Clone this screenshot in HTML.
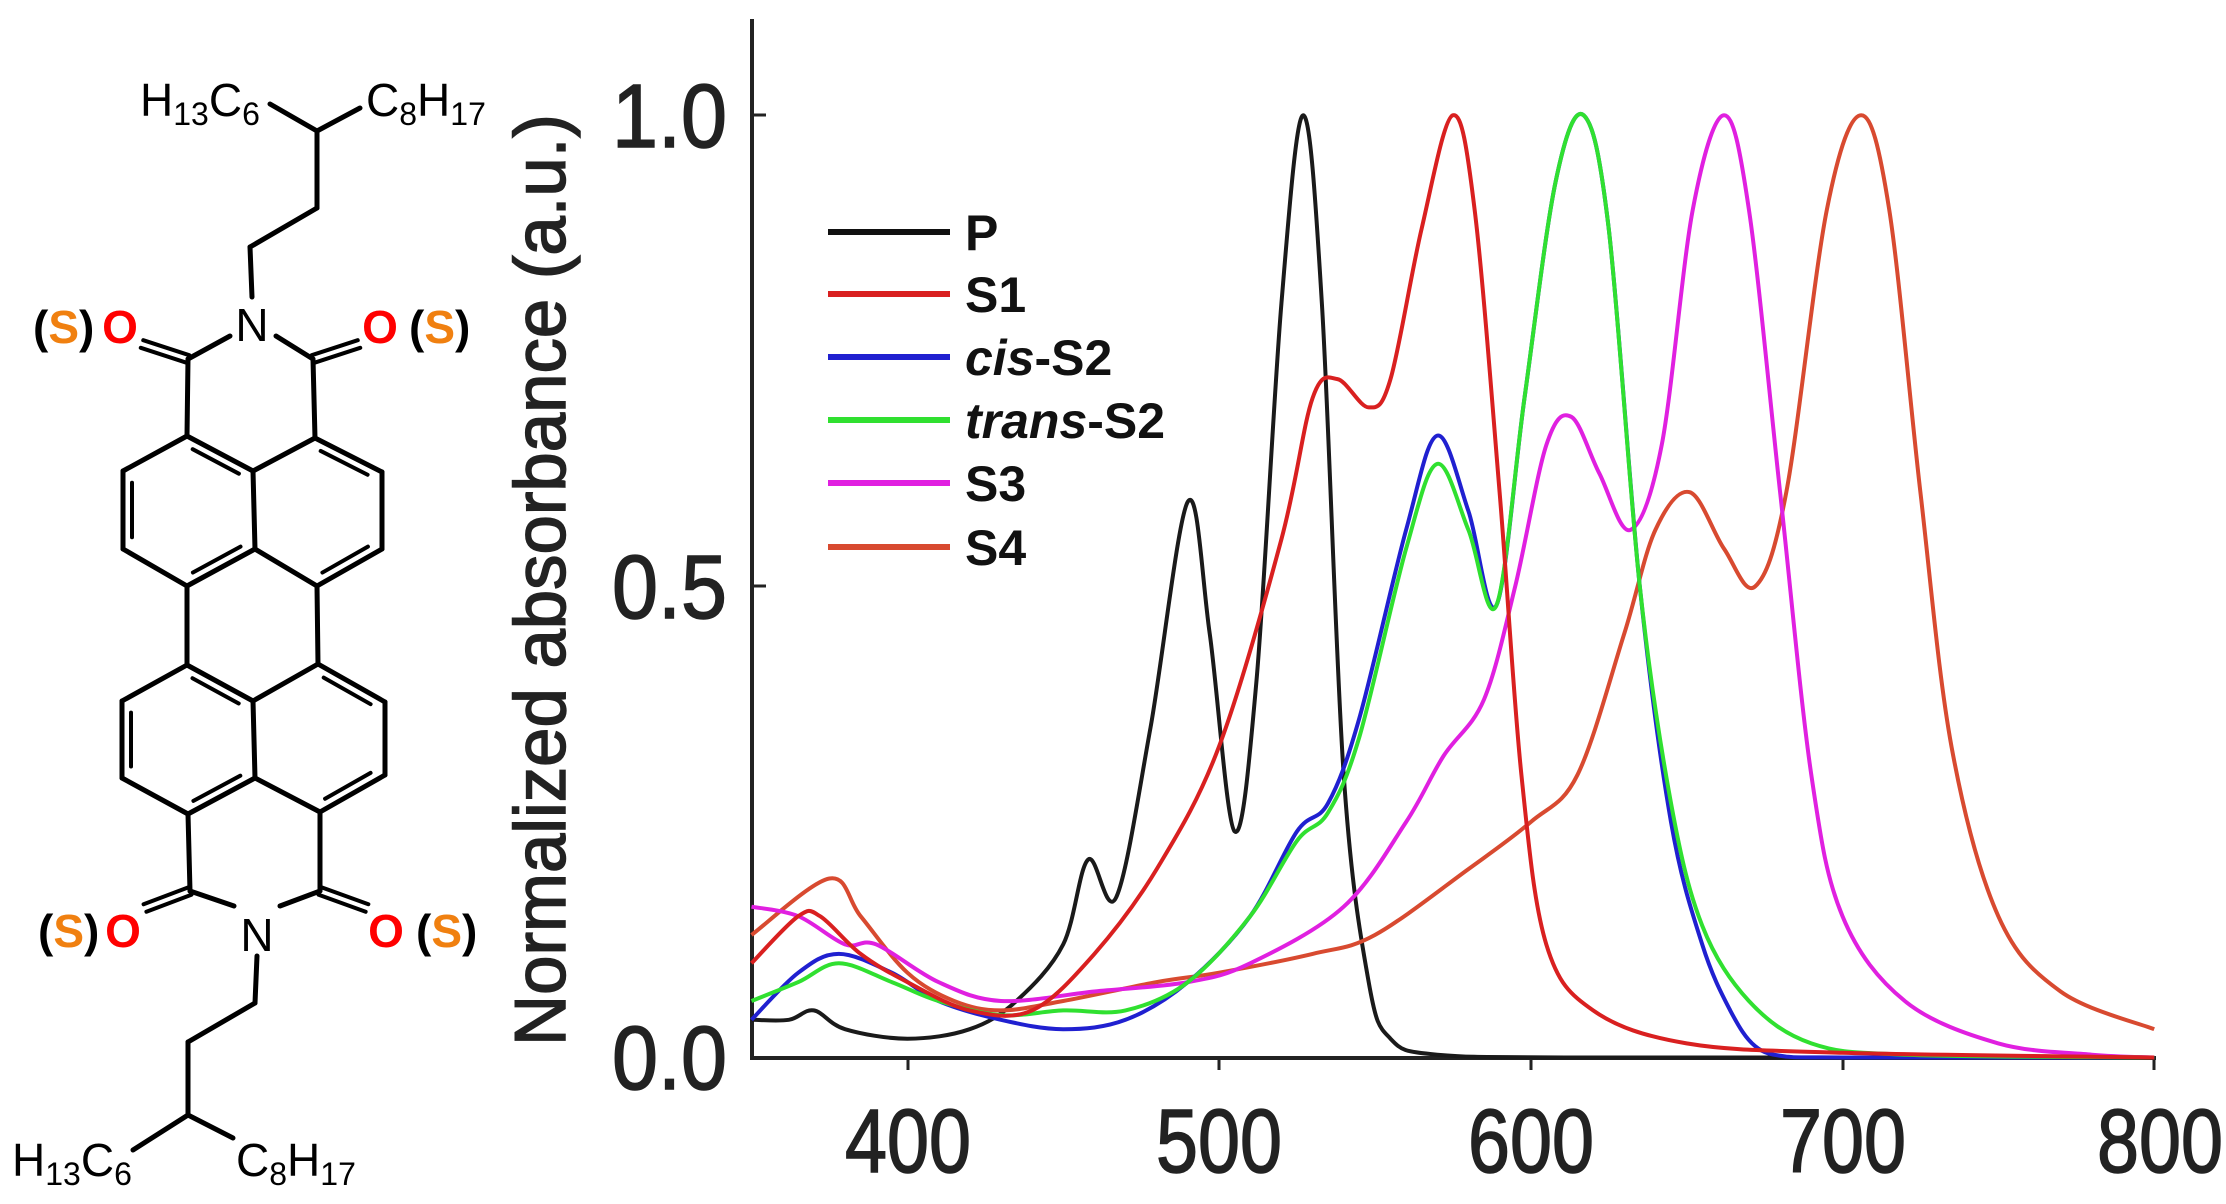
<!DOCTYPE html>
<html><head><meta charset="utf-8"><style>
html,body{margin:0;padding:0;background:#fff;}
svg{display:block;}
</style></head><body>
<svg id="s" width="2226" height="1204" viewBox="0 0 2226 1204" xmlns="http://www.w3.org/2000/svg" font-family="Liberation Sans, sans-serif">
<g id="mol" stroke="#000" stroke-width="5" fill="none" stroke-linecap="round"></g>
<g font-size="46" fill="#000">
<text x="140" y="116">H<tspan font-size="32" dy="9">13</tspan><tspan dy="-9">C</tspan><tspan font-size="32" dy="9">6</tspan></text>
<text x="366" y="116">C<tspan font-size="32" dy="9">8</tspan><tspan dy="-9">H</tspan><tspan font-size="32" dy="9">17</tspan></text>
<text x="12" y="1176">H<tspan font-size="32" dy="9">13</tspan><tspan dy="-9">C</tspan><tspan font-size="32" dy="9">6</tspan></text>
<text x="236" y="1176">C<tspan font-size="32" dy="9">8</tspan><tspan dy="-9">H</tspan><tspan font-size="32" dy="9">17</tspan></text>
<text x="252" y="341" text-anchor="middle">N</text>
<text x="257" y="951" text-anchor="middle">N</text>
</g>
<g font-size="46" font-weight="bold">
<text x="120" y="343" text-anchor="middle" fill="#f00">O</text>
<text x="380" y="343" text-anchor="middle" fill="#f00">O</text>
<text x="123" y="947" text-anchor="middle" fill="#f00">O</text>
<text x="386" y="947" text-anchor="middle" fill="#f00">O</text>
<text x="33" y="343">(<tspan fill="#f08010">S</tspan>)</text>
<text x="409" y="343">(<tspan fill="#f08010">S</tspan>)</text>
<text x="38" y="947">(<tspan fill="#f08010">S</tspan>)</text>
<text x="416" y="947">(<tspan fill="#f08010">S</tspan>)</text>
</g>
<!-- axes -->
<line x1="752" y1="19" x2="752" y2="1059" stroke="#222" stroke-width="4"/>
<line x1="750" y1="1058" x2="2156" y2="1058" stroke="#222" stroke-width="4"/>
<g stroke="#222" stroke-width="3">
<line x1="752" y1="115" x2="766" y2="115"/><line x1="752" y1="586" x2="766" y2="586"/>
<line x1="908" y1="1058" x2="908" y2="1070"/><line x1="1219" y1="1058" x2="1219" y2="1070"/>
<line x1="1531" y1="1058" x2="1531" y2="1070"/><line x1="1843" y1="1058" x2="1843" y2="1070"/><line x1="2154" y1="1058" x2="2154" y2="1070"/>
</g>
<g font-size="90" fill="#222" text-anchor="middle" stroke="#222" stroke-width="1.5">
<text x="908" y="1172" textLength="126" lengthAdjust="spacingAndGlyphs">400</text>
<text x="1219" y="1172" textLength="126" lengthAdjust="spacingAndGlyphs">500</text>
<text x="1531" y="1172" textLength="126" lengthAdjust="spacingAndGlyphs">600</text>
<text x="1843" y="1172" textLength="126" lengthAdjust="spacingAndGlyphs">700</text>
<text x="2160" y="1172" textLength="126" lengthAdjust="spacingAndGlyphs">800</text>
</g>
<g font-size="90" fill="#222" text-anchor="end" stroke="#222" stroke-width="1.5">
<text x="727" y="147" textLength="115" lengthAdjust="spacingAndGlyphs">1.0</text>
<text x="727" y="618" textLength="115" lengthAdjust="spacingAndGlyphs">0.5</text>
<text x="727" y="1089" textLength="115" lengthAdjust="spacingAndGlyphs">0.0</text>
</g>
<text transform="translate(565,1046) rotate(-90)" font-size="72" fill="#222" stroke="#222" stroke-width="1.5" textLength="932" lengthAdjust="spacingAndGlyphs">Normalized absorbance (a.u.)</text>
<!-- legend -->
<g stroke-width="6">
<line x1="828" y1="232" x2="950" y2="232" stroke="#111"/>
<line x1="828" y1="294" x2="950" y2="294" stroke="#d92020"/>
<line x1="828" y1="357" x2="950" y2="357" stroke="#2020d0"/>
<line x1="828" y1="420" x2="950" y2="420" stroke="#30e030"/>
<line x1="828" y1="483" x2="950" y2="483" stroke="#e020e0"/>
<line x1="828" y1="547" x2="950" y2="547" stroke="#d84a30"/>
</g>
<g font-size="50" font-weight="bold" fill="#111">
<text x="965" y="250">P</text>
<text x="965" y="312">S1</text>
<text x="965" y="375"><tspan font-style="italic">cis</tspan>-S2</text>
<text x="965" y="438"><tspan font-style="italic">trans</tspan>-S2</text>
<text x="965" y="501">S3</text>
<text x="965" y="565">S4</text>
</g>
<g id="curves" fill="none" stroke-width="4" stroke-linejoin="round"></g>
</svg>
<script>
(function(){
var NS="http://www.w3.org/2000/svg";
var mol=document.getElementById("mol");
function ln(a,b,c,d,w){var l=document.createElementNS(NS,"line");l.setAttribute("x1",a);l.setAttribute("y1",b);l.setAttribute("x2",c);l.setAttribute("y2",d);if(w)l.setAttribute("stroke-width",w);mol.appendChild(l);}
var B=[[270,104,317,131],[317,131,360,108],[317,131,317,208],[317,208,250,247],[250,247,252,297],
[230,336,188,359],[276,336,313,359],[188,359,187,436],[313,359,315,438],
[187,436,253,471],[253,471,315,438],[187,436,123,471],[123,471,123,549],[123,549,187,586],[187,586,255,549],[253,471,255,549],[255,549,317,586],[317,586,382,549],[382,549,382,472],[382,472,315,438],
[187,586,187,665],[317,586,318,664],
[187,665,253,701],[253,701,318,664],[187,665,122,701],[122,701,122,778],[122,778,188,814],[188,814,255,778],[253,701,255,778],[255,778,320,812],[320,812,385,775],[385,775,385,702],[385,702,318,664],
[188,814,190,891],[320,812,320,891],[190,891,234,906],[320,891,280,906],
[257,956,255,1003],[255,1003,188,1042],[188,1042,188,1115],[188,1115,133,1150],[188,1115,233,1138]];
B.forEach(function(b){ln(b[0],b[1],b[2],b[3]);});
[[188,359,142,344],[313,359,359,344],[190,891,145,908],[320,891,367,908]].forEach(function(b){
 var dx=b[2]-b[0],dy=b[3]-b[1],L=Math.hypot(dx,dy),nx=-dy/L*4,ny=dx/L*4;
 ln(b[0]+nx,b[1]+ny,b[2]+nx,b[3]+ny,4);ln(b[0]-nx,b[1]-ny,b[2]-nx,b[3]-ny,4);});
function inner(a,b,c,d,cx,cy){var mx=(a+c)/2,my=(b+d)/2,vx=cx-mx,vy=cy-my,L=Math.hypot(vx,vy),ox=vx/L*9,oy=vy/L*9,
 s=0.15;ln(a+(c-a)*s+ox,b+(d-b)*s+oy,c-(c-a)*s+ox,d-(d-b)*s+oy,4);}
inner(187,436,253,471,190,510);inner(123,471,123,549,190,510);inner(187,586,255,549,190,510);
inner(315,438,382,472,318,510);inner(317,586,382,549,318,510);
inner(187,665,253,701,188,740);inner(122,701,122,778,188,740);inner(188,814,255,778,188,740);
inner(318,664,385,702,320,740);inner(320,812,385,775,320,740);
function X(nm){return 751.5+(nm-350)*3.117;}
function Y(v){return 1057.5-v*942.2;}
var D=[
["#1a1a1a",[[350,0.04],[362,0.04],[370,0.05],[380,0.03],[400,0.02],[420,0.03],[435,0.06],[450,0.12],[458,0.21],[467,0.17],[478,0.35],[490,0.59],[497,0.45],[505,0.24],[512,0.4],[520,0.8],[527,1.0],[533,0.8],[540,0.3],[548,0.08],[555,0.02],[570,0.003],[620,0.0],[800,0.0]]],
["#d84a30",[[350,0.13],[375,0.19],[385,0.15],[400,0.09],[415,0.06],[430,0.05],[450,0.06],[480,0.08],[500,0.09],[530,0.11],[550,0.13],[580,0.2],[600,0.25],[615,0.3],[630,0.45],[640,0.56],[651,0.6],[662,0.54],[672,0.5],[682,0.6],[695,0.9],[706,1.0],[715,0.9],[725,0.6],[735,0.33],[750,0.15],[770,0.07],[800,0.03]]],
["#e020e0",[[350,0.16],[365,0.15],[380,0.12],[390,0.12],[410,0.08],[430,0.06],[460,0.07],[490,0.08],[510,0.1],[540,0.16],[560,0.25],[572,0.32],[585,0.38],[595,0.5],[605,0.65],[613,0.68],[622,0.62],[632,0.56],[642,0.65],[652,0.9],[662,1.0],[670,0.9],[680,0.6],[690,0.3],[700,0.15],[720,0.06],[750,0.015],[780,0.003],[800,0]]],
["#2020d0",[[350,0.04],[365,0.09],[378,0.11],[395,0.09],[410,0.06],[430,0.04],[450,0.03],[470,0.04],[490,0.08],[510,0.15],[525,0.24],[535,0.27],[545,0.36],[560,0.56],[570,0.66],[580,0.58],[589,0.48],[598,0.7],[608,0.93],[617,1.0],[625,0.88],[635,0.5],[645,0.25],[655,0.12],[664,0.05],[672,0.012],[682,0.001],[700,0],[800,0]]],
["#30e030",[[350,0.06],[365,0.08],[378,0.1],[395,0.08],[410,0.06],[430,0.045],[450,0.05],[470,0.05],[490,0.08],[510,0.15],[525,0.23],[535,0.26],[545,0.34],[560,0.54],[570,0.63],[580,0.56],[589,0.48],[598,0.7],[608,0.93],[617,1.0],[625,0.88],[635,0.5],[645,0.27],[655,0.14],[670,0.06],[690,0.015],[720,0.003],[800,0]]],
["#d92020",[[350,0.1],[365,0.15],[372,0.15],[385,0.11],[400,0.08],[420,0.05],[440,0.05],[460,0.11],[480,0.2],[500,0.33],[520,0.55],[530,0.7],[538,0.72],[548,0.69],[555,0.72],[565,0.88],[575,1.0],[582,0.9],[590,0.6],[597,0.3],[605,0.12],[620,0.05],[650,0.015],[700,0.005],[800,0]]]
];
var g=document.getElementById("curves");
D.forEach(function(s){var c=s[0];var p=s[1].map(function(q){return [X(q[0]),Y(q[1])];});
 var d="M"+p[0][0].toFixed(1)+","+p[0][1].toFixed(1);
 for(var i=0;i<p.length-1;i++){var p0=p[i-1]||p[i],p1=p[i],p2=p[i+1],p3=p[i+2]||p2;
  var c1x=p1[0]+(p2[0]-p0[0])/6,c1y=p1[1]+(p2[1]-p0[1])/6,c2x=p2[0]-(p3[0]-p1[0])/6,c2y=p2[1]-(p3[1]-p1[1])/6;
  c1y=Math.min(c1y,1057.5);c2y=Math.min(c2y,1057.5);
  d+=" C"+c1x.toFixed(1)+","+c1y.toFixed(1)+" "+c2x.toFixed(1)+","+c2y.toFixed(1)+" "+p2[0].toFixed(1)+","+p2[1].toFixed(1);}
 var e=document.createElementNS(NS,"path");e.setAttribute("d",d);e.setAttribute("stroke",c);g.appendChild(e);});
})();
</script>
</body></html>
